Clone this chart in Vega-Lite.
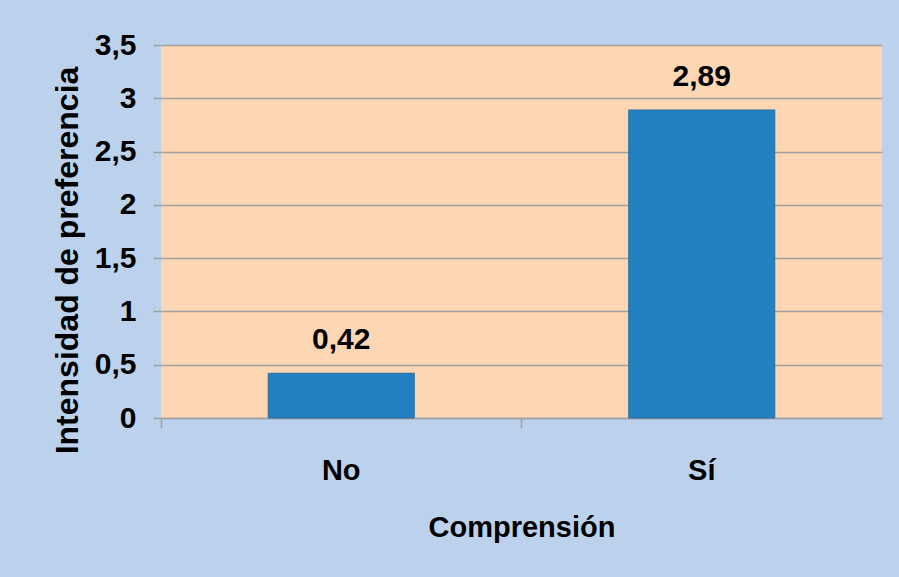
{
  "$schema": "https://vega.github.io/schema/vega-lite/v6.json",
  "width": 721,
  "height": 373,
  "autosize": {"type": "none"},
  "padding": {"left": 161, "top": 45, "right": 17, "bottom": 159},
  "background": "#BCD1EC",
  "config": {
    "locale": {"number": {"decimal": ",", "thousands": ".", "grouping": [3], "currency": ["", " €"]}},
    "font": "Liberation Sans",
    "view": {"fill": "#FDD7B3", "stroke": null}
  },
  "data": {"values": [
    {"Comprension": "No", "valor": 0.42},
    {"Comprension": "Sí", "valor": 2.89}
  ]},
  "encoding": {
    "x": {
      "field": "Comprension", "type": "nominal", "sort": null,
      "scale": {"paddingInner": 0, "paddingOuter": 0},
      "axis": {
        "title": "Comprensión", "labelAngle": 0, "bandPosition": 0,
        "labelFont": "Liberation Sans", "labelFontWeight": "bold", "labelFontSize": 29, "labelColor": "#000000",
        "labelPadding": 28, "labelBaseline": "top",
        "tickSize": 10, "tickColor": "#A0A0A0", "tickWidth": 1.5,
        "domainColor": "#A0A0A0", "domainWidth": 1.5,
        "titleFont": "Liberation Sans", "titleFontWeight": "bold", "titleFontSize": 29, "titleColor": "#000000",
        "titleY": 109, "titleBaseline": "middle"
      }
    },
    "y": {
      "field": "valor", "type": "quantitative",
      "scale": {"domain": [0, 3.5], "nice": false},
      "axis": {
        "title": "Intensidad de preferencia", "values": [0, 0.5, 1, 1.5, 2, 2.5, 3, 3.5], "format": "~g",
        "labelFont": "Liberation Sans", "labelFontWeight": "bold", "labelFontSize": 30, "labelColor": "#000000",
        "labelPadding": 17, "tickSize": 8, "tickColor": "#A0A0A0", "tickWidth": 1.5,
        "grid": true, "gridColor": "#A0A0A0", "gridWidth": 1.5, "domain": false,
        "titleFont": "Liberation Sans", "titleFontWeight": "bold", "titleFontSize": 32, "titleColor": "#000000",
        "titleAngle": 270, "titleX": -94, "titleY": 215, "titleAlign": "center", "titleBaseline": "middle"
      }
    }
  },
  "layer": [
    {
      "mark": {"type": "bar", "width": {"band": 0.405}, "color": "#2381C2", "stroke": "#2B6A9A", "strokeWidth": 1}
    },
    {
      "mark": {"type": "text", "dy": -18, "baseline": "bottom", "font": "Liberation Sans", "fontWeight": "bold", "fontSize": 30, "color": "#000000"},
      "encoding": {"text": {"field": "valor", "type": "quantitative", "format": ".2f"}}
    }
  ]
}
